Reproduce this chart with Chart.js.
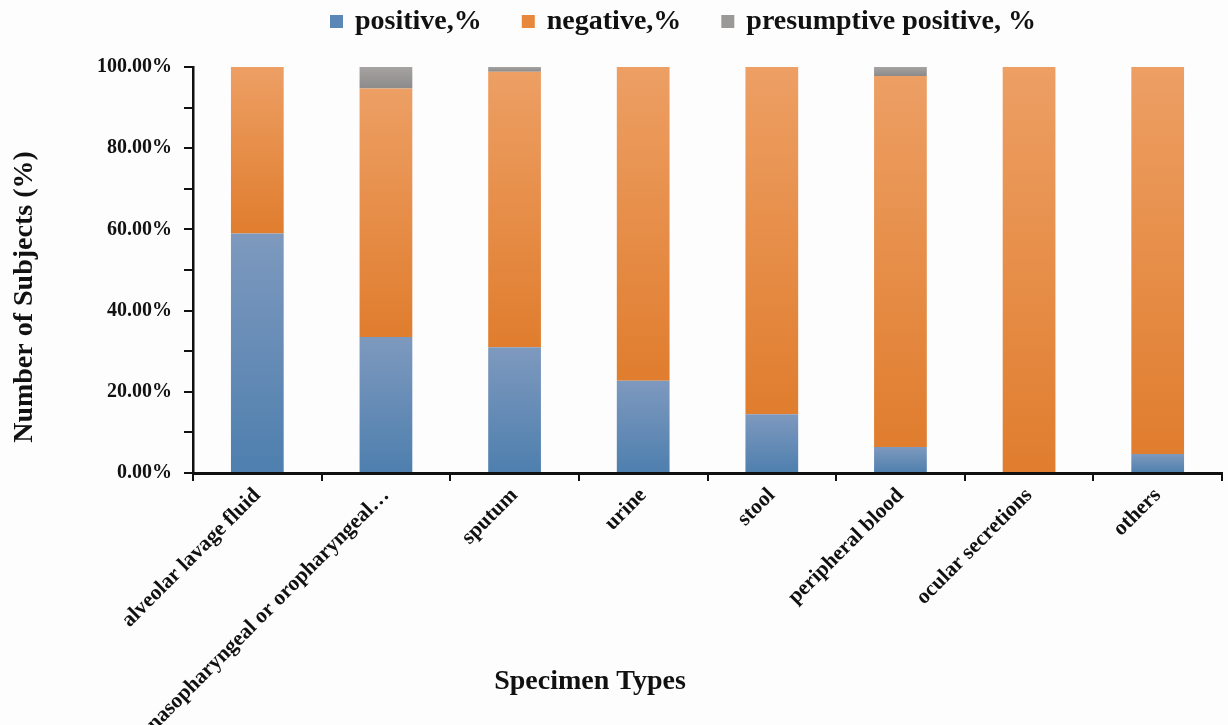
<!DOCTYPE html>
<html>
<head>
<meta charset="utf-8">
<script src="https://cdn.jsdelivr.net/npm/chart.js@4"></script>
<style>
  html, body { margin: 0; padding: 0; background: #fdfdfe; }
  #wrap { width: 1228px; height: 725px; }
</style>
</head>
<body>
<div id="wrap"><canvas id="chart" width="1228" height="725"></canvas></div>
<script>
const categories = [
  'alveolar lavage fluid',
  'nasopharyngeal or oropharyngeal\u2026',
  'sputum',
  'urine',
  'stool',
  'peripheral blood',
  'ocular secretions',
  'others'
];
const positive = [59.0, 33.5, 31.0, 22.7, 14.5, 6.4, 0, 4.7];
const negative = [41.0, 61.2, 67.8, 77.3, 85.5, 91.4, 100, 95.3];
const presumptive = [0, 5.3, 1.2, 0, 0, 2.2, 0, 0];
const seriesNames = ['positive,%', 'negative,%', 'presumptive positive, %'];
const yTicks = [0, 20, 40, 60, 80, 100];

const serif = "'Liberation Serif', 'Times New Roman', serif";
const allSeries = [positive, negative, presumptive];

// gradient for one stacked segment: lighter on top, darker at the bottom
function segmentFill(light, dark, flat) {
  return function (ctx) {
    const chart = ctx.chart;
    const y = chart.scales.y;
    if (!chart.chartArea || !y || ctx.type !== 'data') return flat;
    const d = ctx.datasetIndex, i = ctx.dataIndex;
    let below = 0;
    for (let k = 0; k < d; k++) below += allSeries[k][i];
    const top = y.getPixelForValue(below + allSeries[d][i]);
    const bottom = y.getPixelForValue(below);
    if (!isFinite(top) || !isFinite(bottom) || bottom - top < 1) return flat;
    const g = chart.ctx.createLinearGradient(0, top, 0, bottom);
    g.addColorStop(0, light);
    g.addColorStop(1, dark);
    return g;
  };
}

const legendColors = ['#5b87b6', '#e8883c', '#9b9898'];

const titlesAndLegend = {
  id: 'titlesAndLegend',
  afterDraw(chart) {
    const c = chart.ctx;
    c.save();
    c.fillStyle = '#111';
    c.font = 'bold 28px ' + serif;
    c.textAlign = 'center';
    c.textBaseline = 'middle';
    c.fillText('Specimen Types', 590, 682);
    c.translate(25, 297);
    c.rotate(-Math.PI / 2);
    c.fillText('Number of Subjects (%)', 0, 0);
    c.restore();

    // legend
    c.save();
    c.font = 'bold 28px ' + serif;
    c.textAlign = 'left';
    c.textBaseline = 'middle';
    let x = 330;
    chart.data.datasets.forEach((ds, k) => {
      c.fillStyle = legendColors[k];
      c.fillRect(x, 15, 13, 13);
      x += 13 + 12;
      c.fillStyle = '#111';
      c.fillText(ds.label, x, 22);
      x += c.measureText(ds.label).width + 40;
    });
    c.restore();
  }
};

new Chart(document.getElementById('chart'), {
  type: 'bar',
  data: {
    labels: categories,
    datasets: [
      { label: seriesNames[0], data: positive,
        backgroundColor: segmentFill('#7e99be', '#4e7fae', '#5b87b6') },
      { label: seriesNames[1], data: negative,
        backgroundColor: segmentFill('#ed9f64', '#e07d2e', '#e8883c') },
      { label: seriesNames[2], data: presumptive,
        backgroundColor: segmentFill('#a6a3a2', '#8c8a8a', '#9b9898') }
    ]
  },
  options: {
    responsive: false,
    animation: false,
    devicePixelRatio: 1,
    layout: { padding: { top: 67, right: 6, left: 0, bottom: 0 } },
    datasets: { bar: { categoryPercentage: 1, barPercentage: 0.41 } },
    plugins: {
      legend: { display: false },
      tooltip: { enabled: false }
    },
    scales: {
      x: {
        stacked: true,
        afterFit(scale) { scale.height = 252; },
        border: { color: '#111', width: 3 },
        grid: { offset: true, drawOnChartArea: false, drawTicks: true, tickLength: 8, color: '#111', lineWidth: 2 },
        ticks: {
          color: '#111',
          font: { family: serif, size: 21.5, weight: 'bold' },
          minRotation: 45, maxRotation: 45, autoSkip: false, padding: 2
        }
      },
      y: {
        stacked: true,
        min: 0, max: 100,
        afterFit(scale) { scale.width = 193; },
        border: { color: '#111', width: 2.5 },
        grid: { drawOnChartArea: false, drawTicks: true, tickLength: 9, color: '#111', lineWidth: 2 },
        ticks: {
          stepSize: 10,
          autoSkip: false,
          color: '#111',
          padding: 12,
          font: { family: serif, size: 20, weight: 'bold' },
          callback: v => yTicks.includes(v) ? v.toFixed(2) + '%' : ''
        }
      }
    }
  },
  plugins: [titlesAndLegend]
});
</script>
</body>
</html>
